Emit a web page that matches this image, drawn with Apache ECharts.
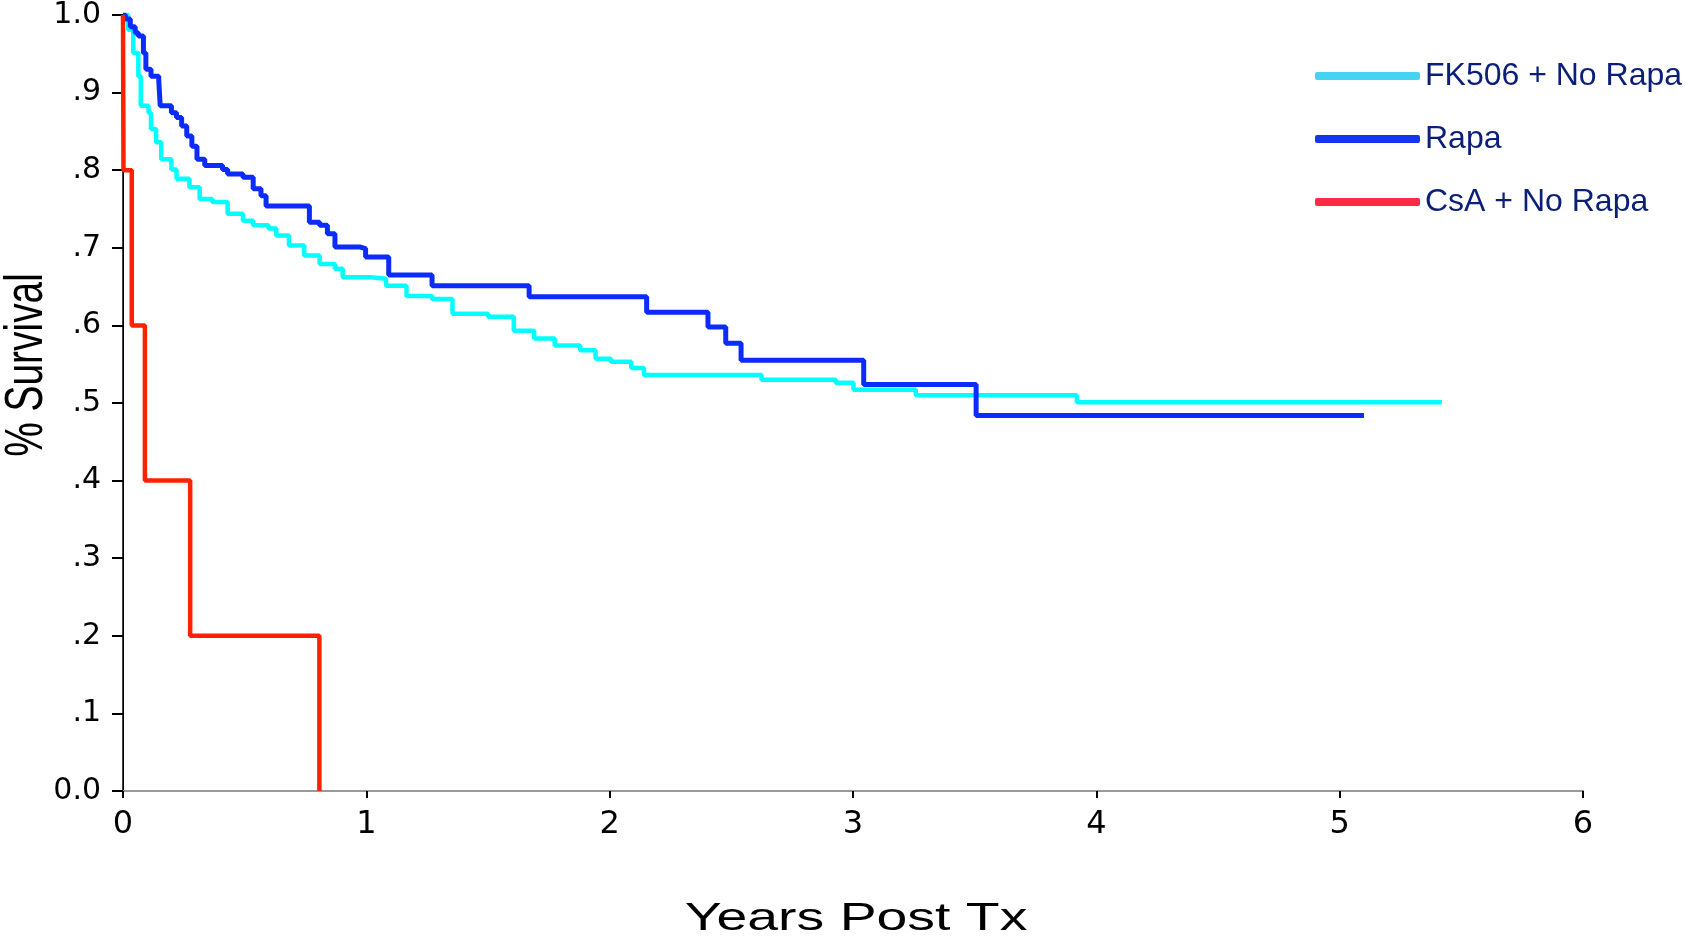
<!DOCTYPE html>
<html>
<head>
<meta charset="utf-8">
<script src="https://cdn.jsdelivr.net/npm/echarts@6/dist/echarts.min.js"></script>
<style>
    html, body {margin: 0; padding: 0; background: #fff;}
    #chart {width: 1686px; height: 944px;}
</style>
</head>
<body>
<div id="chart"></div>
<script>
// Kaplan-Meier curves, points (x = years, y = survival after the step)
var fkYears = [0, 0.021, 0.042, 0.063, 0.073, 0.105, 0.115, 0.136, 0.157, 0.199, 0.220, 0.273, 0.315, 0.367, 0.430, 0.493,
    0.535, 0.598, 0.630, 0.682, 0.745, 0.808, 0.871, 0.903, 1.018, 1.081, 1.165, 1.270, 1.354, 1.501, 1.606, 1.690,
    1.774, 1.879, 1.942, 2.005, 2.089, 2.141, 2.624, 2.929, 3.002, 3.258, 3.920, 5.420];
var fkSurv = [1.0, 0.981, 0.951, 0.921, 0.883, 0.874, 0.853, 0.836, 0.814, 0.801, 0.789, 0.778, 0.763, 0.759, 0.744, 0.735,
    0.729, 0.725, 0.716, 0.703, 0.690, 0.679, 0.673, 0.662, 0.660, 0.651, 0.638, 0.634, 0.615, 0.611, 0.593, 0.583,
    0.574, 0.568, 0.557, 0.553, 0.545, 0.536, 0.530, 0.526, 0.517, 0.510, 0.501, 0.501];

var rapaYears = [0, 0.010, 0.030, 0.050, 0.063, 0.084, 0.094, 0.115, 0.147, 0.153, 0.199, 0.220, 0.241, 0.262, 0.283, 0.304,
    0.336, 0.409, 0.430, 0.493, 0.535, 0.567, 0.588, 0.766, 0.808, 0.840, 0.871, 0.976, 0.997, 1.092, 1.270, 1.669,
    2.152, 2.404, 2.477, 2.540, 3.044, 3.506, 5.100];
var rapaSurv = [1.0, 0.995, 0.985, 0.977, 0.973, 0.951, 0.930, 0.921, 0.915, 0.883, 0.874, 0.868, 0.857, 0.844, 0.831, 0.814,
    0.806, 0.801, 0.795, 0.791, 0.776, 0.767, 0.754, 0.733, 0.729, 0.718, 0.701, 0.699, 0.688, 0.665, 0.651, 0.637,
    0.617, 0.598, 0.577, 0.555, 0.524, 0.484, 0.484];

var csaYears = [0, 0.002, 0.036, 0.090, 0.276, 0.807];
var csaSurv = [1.0, 0.8, 0.6, 0.4, 0.2, 0.0];

var seriesNames = ['FK506 + No Rapa', 'Rapa', 'CsA + No Rapa'];

function pairs(xs, ys) {
    var out = [];
    for (var i = 0; i < xs.length; i++) {
        out.push([xs[i], ys[i]]);
    }
    return out;
}

var myChart = echarts.init(document.getElementById('chart'));

var labelFont = 'DejaVu Sans';

option = {
    backgroundColor: '#ffffff',
    animation: false,
    grid: {left: 123, top: 12, right: 103, bottom: 153},
    legend: {
        orient: 'vertical',
        left: 1310,
        top: 55,
        padding: 5,
        backgroundColor: '#ffffff',
        itemWidth: 105,
        itemHeight: 8,
        itemGap: 31,
        icon: 'roundRect',
        textStyle: {color: '#0b1f78', fontSize: 32, fontFamily: 'Liberation Sans'},
        data: [
            {name: seriesNames[0], itemStyle: {color: '#45d3f2'}},
            {name: seriesNames[1], itemStyle: {color: '#1535f5'}},
            {name: seriesNames[2], itemStyle: {color: '#ff2a44'}}
        ]
    },
    xAxis: [
        {
            type: 'value',
            min: 0,
            max: 6,
            interval: 1,
            axisLine: {show: true, onZero: false, lineStyle: {color: '#555555', width: 2}},
            axisTick: {show: true, length: 7, lineStyle: {color: '#000', width: 2}},
            axisLabel: {color: '#000', fontSize: 32, fontFamily: labelFont, margin: 18},
            splitLine: {show: false}
        },
        {
            type: 'value',
            position: 'top',
            min: 0,
            max: 6,
            axisLine: {show: true, lineStyle: {color: '#999999', width: 2}},
            axisTick: {show: false},
            axisLabel: {show: false},
            splitLine: {show: false}
        }
    ],
    yAxis: [
        {
            type: 'value',
            min: 0,
            max: 1,
            interval: 0.1,
            axisLine: {show: true, onZero: false, lineStyle: {color: '#000', width: 1.5}},
            axisTick: {show: true, length: 11, lineStyle: {color: '#000', width: 2}},
            axisLabel: {
                color: '#000',
                fontSize: 30,
                fontFamily: labelFont,
                margin: 22,
                formatter: function (v) {
                    if (v === 0) return '0.0';
                    if (v === 1) return '1.0';
                    return '.' + Math.round(v * 10);
                }
            },
            splitLine: {show: false}
        },
        {
            type: 'value',
            position: 'right',
            min: 0,
            max: 1,
            axisLine: {show: true, lineStyle: {color: '#000', width: 1}},
            axisTick: {show: false},
            axisLabel: {show: false},
            splitLine: {show: false}
        }
    ],
    graphic: [
        {
            type: 'text',
            x: 856,
            y: 919,
            scaleX: 1.42,
            style: {
                text: 'Years Post Tx',
                fontSize: 39,
                fontFamily: 'Liberation Sans',
                fill: '#000',
                textAlign: 'center', align: 'center',
                textVerticalAlign: 'middle', verticalAlign: 'middle'
            }
        },
        {
            type: 'text',
            x: 27,
            y: 365,
            rotation: Math.PI / 2,
            scaleX: 0.72,
            style: {
                text: '% Survival',
                fontSize: 54,
                fontFamily: 'Liberation Sans',
                fill: '#000',
                textAlign: 'center', align: 'center',
                textVerticalAlign: 'middle', verticalAlign: 'middle'
            }
        }
    ],
    series: [
        {
            name: seriesNames[0],
            type: 'line',
            step: 'end',
            showSymbol: false,
            symbol: 'none',
            lineStyle: {color: '#00ffff', width: 4.5},
            itemStyle: {color: '#00ffff'},
            data: pairs(fkYears, fkSurv)
        },
        {
            name: seriesNames[1],
            type: 'line',
            step: 'end',
            showSymbol: false,
            symbol: 'none',
            lineStyle: {color: '#0c2cff', width: 5},
            itemStyle: {color: '#0c2cff'},
            data: pairs(rapaYears, rapaSurv)
        },
        {
            name: seriesNames[2],
            type: 'line',
            step: 'end',
            showSymbol: false,
            symbol: 'none',
            lineStyle: {color: '#ff2200', width: 4.5},
            itemStyle: {color: '#ff2200'},
            data: pairs(csaYears, csaSurv)
        }
    ]
};

myChart.setOption(option);
window.addEventListener('resize', function () {
    myChart.resize();
});
</script>
</body>
</html>
